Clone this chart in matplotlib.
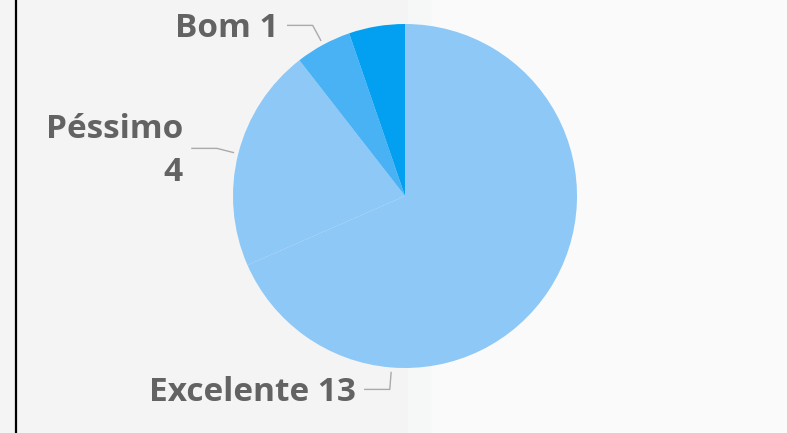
import numpy as np
import matplotlib.pyplot as plt
from matplotlib.patches import Rectangle

labels = ["Excelente", "Péssimo", "Bom", ""]
values = [13, 4, 1, 1]
colors = ["#8dc8f7", "#8dc8f7", "#48b2f4", "#039ff0"]
label_text = ["Excelente 13", "Péssimo\n4", "Bom 1", None]
# angle (deg, clockwise from top) where each leader line meets the pie
leader_angle = [184.5, None, None, None]

W, H = 787, 433
fig = plt.figure(figsize=(W / 100, H / 100), dpi=100, facecolor="#fafafa")
ax = fig.add_axes([0, 0, 1, 1])

# background panels and left border
ax.add_patch(Rectangle((0, 0), 408, H, color="#f4f4f4", zorder=0))
ax.add_patch(Rectangle((408, 0), 22, H, color="#f6f8f8", zorder=0))
ax.plot([16, 16], [0, H], color="black", lw=1.6, zorder=1)

cx, cy, r = 405, H - 196, 172
wedges, _ = ax.pie(values, colors=colors, startangle=90, counterclock=False,
                   center=(cx, cy), radius=r, frame=True,
                   wedgeprops=dict(linewidth=0))
ax.set_xlim(0, W)
ax.set_ylim(0, H)
ax.set_aspect("equal")
ax.axis("off")

total = sum(values)
start = 0.0
for i, v in enumerate(values):
    span = 360.0 * v / total
    mid = start + span / 2
    start += span
    if label_text[i] is None:
        continue
    a = leader_angle[i] if leader_angle[i] is not None else mid
    t = np.radians(a)
    dx, dy = np.sin(t), np.cos(t)
    p0 = (cx + 177 * dx, cy + 177 * dy)
    p1 = (cx + 194 * dx, cy + 194 * dy)
    p2 = (p1[0] - 25, p1[1])
    ax.plot([p0[0], p1[0], p2[0]], [p0[1], p1[1], p2[1]],
            color="#aaaaaa", lw=1.0, zorder=3)
    ax.text(p2[0] - 9, p2[1] - 3, label_text[i], ha="right", va="center",
            fontsize=24, fontweight="bold", family="Open Sans",
            color="#636363", linespacing=1.4, zorder=4)

fig.savefig("out.png", dpi=100, facecolor=fig.get_facecolor())
